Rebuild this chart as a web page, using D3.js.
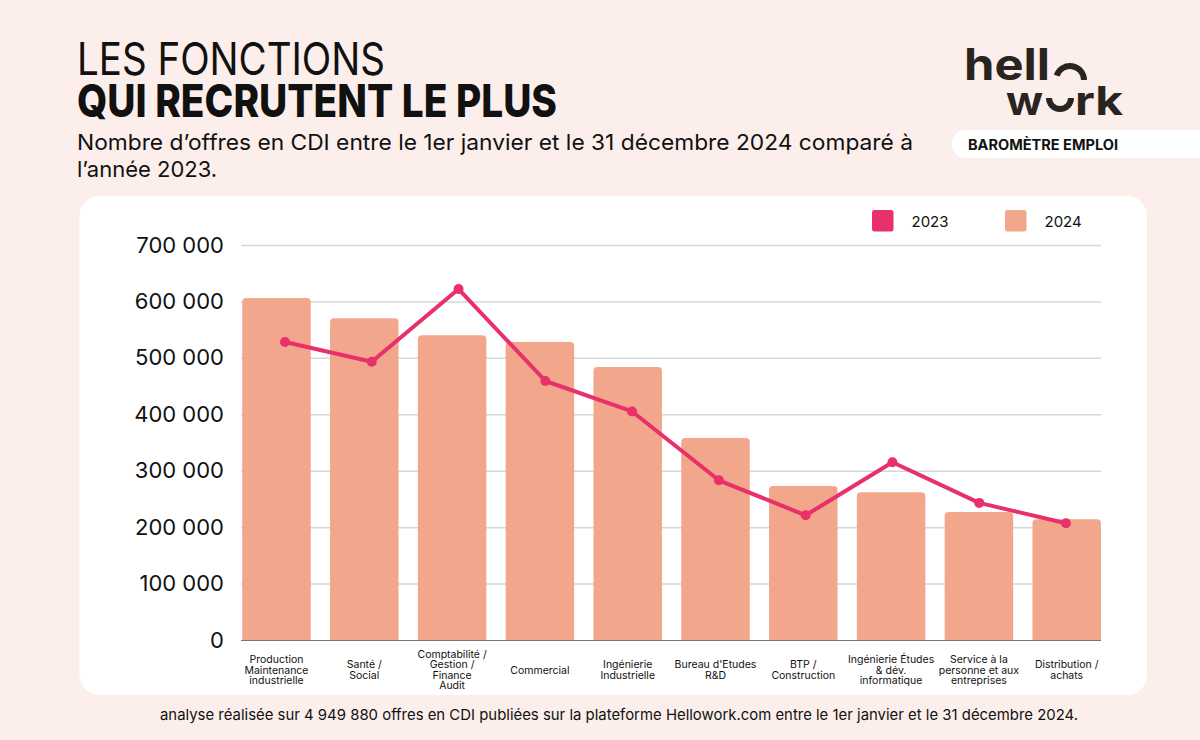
<!DOCTYPE html>
<html>
<head>
<meta charset="utf-8">
<script src="https://cdn.jsdelivr.net/npm/d3@7"></script>
<style>
  body { margin: 0; background: #fcefeb; }
  svg { display: block; font-family: Inter, Roboto, sans-serif; }
</style>
</head>
<body>
<div id="chart"></div>
<script>
// donnees
var categories = [
  "Production\nMaintenance\nindustrielle",
  "Santé /\nSocial",
  "Comptabilité /\nGestion /\nFinance\nAudit",
  "Commercial",
  "Ingénierie\nIndustrielle",
  "Bureau d'Etudes\nR&D",
  "BTP /\nConstruction",
  "Ingénierie Études\n& dév.\ninformatique",
  "Service à la\npersonne et aux\nentreprises",
  "Distribution /\nachats"
];
var offres2024 = [606000, 570000, 540000, 528000, 484000, 358000, 273000, 262000, 227000, 214000];
var offres2023 = [528000, 493000, 622000, 459000, 405000, 283000, 221000, 315000, 243000, 207000];
var yTicks = [0, 100000, 200000, 300000, 400000, 500000, 600000, 700000];
var series = ["2023", "2024"];

var W = 1200, H = 740;
var barColor = "#f2a78c", lineColor = "#e8306a", ink = "#111";

var fr = d3.formatLocale({decimal: ",", thousands: " ", grouping: [3], currency: ["", " €"]});
var fmt = fr.format(",");

var svg = d3.select("#chart").append("svg")
  .attr("width", W).attr("height", H);

svg.append("rect").attr("width", W).attr("height", H).attr("fill", "#fcefeb");

// titre
svg.append("text").attr("x", 77).attr("y", 75)
  .attr("font-size", 45).attr("font-weight", 400).attr("fill", ink)
  .attr("textLength", 308).attr("lengthAdjust", "spacingAndGlyphs")
  .text("LES FONCTIONS");
svg.append("text").attr("x", 77).attr("y", 117)
  .attr("font-size", 45).attr("font-weight", 800).attr("fill", ink)
  .attr("textLength", 480).attr("lengthAdjust", "spacingAndGlyphs")
  .text("QUI RECRUTENT LE PLUS");
svg.append("text").attr("x", 77).attr("y", 150)
  .attr("font-size", 22).attr("fill", ink)
  .attr("textLength", 836).attr("lengthAdjust", "spacingAndGlyphs")
  .text("Nombre d’offres en CDI entre le 1er janvier et le 31 décembre 2024 comparé à");
svg.append("text").attr("x", 77).attr("y", 177)
  .attr("font-size", 22).attr("fill", ink)
  .text("l’année 2023.");

// logo
var logo = svg.append("g").attr("fill", "#2a2420");
logo.append("text").attr("x", 964).attr("y", 80)
  .attr("font-size", 44).attr("font-weight", 700)
  .attr("textLength", 86).attr("lengthAdjust", "spacingAndGlyphs")
  .text("hell");
logo.append("path").attr("transform", "translate(1070,80)")
  .attr("d", d3.arc().innerRadius(11).outerRadius(17).startAngle(-1.25).endAngle(Math.PI / 2)());
logo.append("text").attr("x", 1006).attr("y", 115)
  .attr("font-size", 40).attr("font-weight", 700)
  .attr("textLength", 37).attr("lengthAdjust", "spacingAndGlyphs")
  .text("w");
logo.append("path").attr("transform", "translate(1060,98)")
  .attr("d", d3.arc().innerRadius(8).outerRadius(14).startAngle(Math.PI / 2).endAngle(3 * Math.PI / 2)());
logo.append("text").attr("x", 1075).attr("y", 115)
  .attr("font-size", 40).attr("font-weight", 700)
  .attr("textLength", 48).attr("lengthAdjust", "spacingAndGlyphs")
  .text("rk");

svg.append("rect").attr("x", 952).attr("y", 130).attr("width", 280).attr("height", 28)
  .attr("rx", 14).attr("fill", "#fff");
svg.append("text").attr("x", 968).attr("y", 150)
  .attr("font-size", 14).attr("font-weight", 700).attr("fill", ink)
  .attr("textLength", 150).attr("lengthAdjust", "spacingAndGlyphs")
  .text("BAROMÈTRE EMPLOI");

// panneau blanc
svg.append("rect").attr("x", 79.5).attr("y", 196).attr("width", 1067.5).attr("height", 499)
  .attr("rx", 20).attr("fill", "#fff");

var x = d3.scaleBand()
  .domain(categories)
  .range([232.6, 1110.6])
  .paddingInner(0.22)
  .paddingOuter(0.11);

var xp = d3.scalePoint()
  .domain(categories)
  .range([285, 1066]);

var y = d3.scaleLinear()
  .domain([0, 700000])
  .range([640, 245]);

// grille
svg.append("g")
  .attr("class", "grid")
  .attr("transform", "translate(241,0)")
  .call(d3.axisLeft(y).tickValues(yTicks).tickSize(-860).tickFormat(""))
  .call(function(g) {
    g.select(".domain").remove();
    g.selectAll("line").attr("stroke", "#d6d6d6").attr("stroke-width", 1.5);
    g.selectAll(".tick").filter(function(d) { return d === 0; }).select("line")
      .attr("stroke", "#777").attr("stroke-width", 1.2);
  });

// libelles axe y
svg.append("g")
  .attr("transform", "translate(232,0)")
  .call(d3.axisLeft(y).tickValues(yTicks).tickSize(0).tickPadding(8).tickFormat(fmt))
  .call(function(g) {
    g.select(".domain").remove();
    g.selectAll("text").attr("font-size", 22).attr("fill", ink)
      .attr("font-family", "Inter, Roboto, sans-serif");
  });

// barres 2024, coins du haut arrondis
function barPath(x0, y0, w, h, r) {
  return "M" + x0 + "," + (y0 + h) +
    "V" + (y0 + r) +
    "Q" + x0 + "," + y0 + " " + (x0 + r) + "," + y0 +
    "H" + (x0 + w - r) +
    "Q" + (x0 + w) + "," + y0 + " " + (x0 + w) + "," + (y0 + r) +
    "V" + (y0 + h) + "Z";
}

svg.append("g").selectAll("path")
  .data(offres2024)
  .enter().append("path")
  .attr("fill", barColor)
  .attr("d", function(d, i) {
    return barPath(x(categories[i]), y(d), x.bandwidth(), y(0) - y(d), 4);
  });

// courbe 2023
var line = d3.line()
  .x(function(d, i) { return xp(categories[i]); })
  .y(function(d) { return y(d); });

svg.append("path")
  .datum(offres2023)
  .attr("fill", "none")
  .attr("stroke", lineColor)
  .attr("stroke-width", 4)
  .attr("stroke-linejoin", "round")
  .attr("d", line);

svg.append("g").selectAll("circle")
  .data(offres2023)
  .enter().append("circle")
  .attr("cx", function(d, i) { return xp(categories[i]); })
  .attr("cy", function(d) { return y(d); })
  .attr("r", 5)
  .attr("fill", lineColor);

// libelles axe x
var xl = svg.append("g").selectAll("text")
  .data(categories)
  .enter().append("text")
  .attr("text-anchor", "middle")
  .attr("font-size", 10.5)
  .attr("fill", ink)
  .attr("x", function(d) { return x(d) + x.bandwidth() / 2; })
  .attr("y", function(d) {
    var n = d.split("\n").length;
    return 673.5 - (n - 1) * 10.3 / 2;
  });
xl.each(function(d) {
  var t = d3.select(this);
  d.split("\n").forEach(function(s, k) {
    t.append("tspan")
      .attr("x", t.attr("x"))
      .attr("dy", k === 0 ? 0 : 10.3)
      .text(s);
  });
});

// legende
var leg = svg.append("g");
var legX = [872, 1005];
var legC = [lineColor, barColor];
series.forEach(function(s, i) {
  leg.append("rect").attr("x", legX[i]).attr("y", 210).attr("width", 21.5).attr("height", 21.5)
    .attr("rx", 2.5).attr("fill", legC[i]);
  leg.append("text").attr("x", legX[i] + 39.5).attr("y", 227)
    .attr("font-size", 15).attr("fill", ink).text(s);
});

// note
svg.append("text").attr("x", 619).attr("y", 720)
  .attr("text-anchor", "middle").attr("font-size", 15).attr("fill", ink)
  .attr("textLength", 918).attr("lengthAdjust", "spacingAndGlyphs")
  .text("analyse réalisée sur 4 949 880 offres en CDI publiées sur la plateforme Hellowork.com entre le 1er janvier et le 31 décembre 2024.");
</script>
</body>
</html>
